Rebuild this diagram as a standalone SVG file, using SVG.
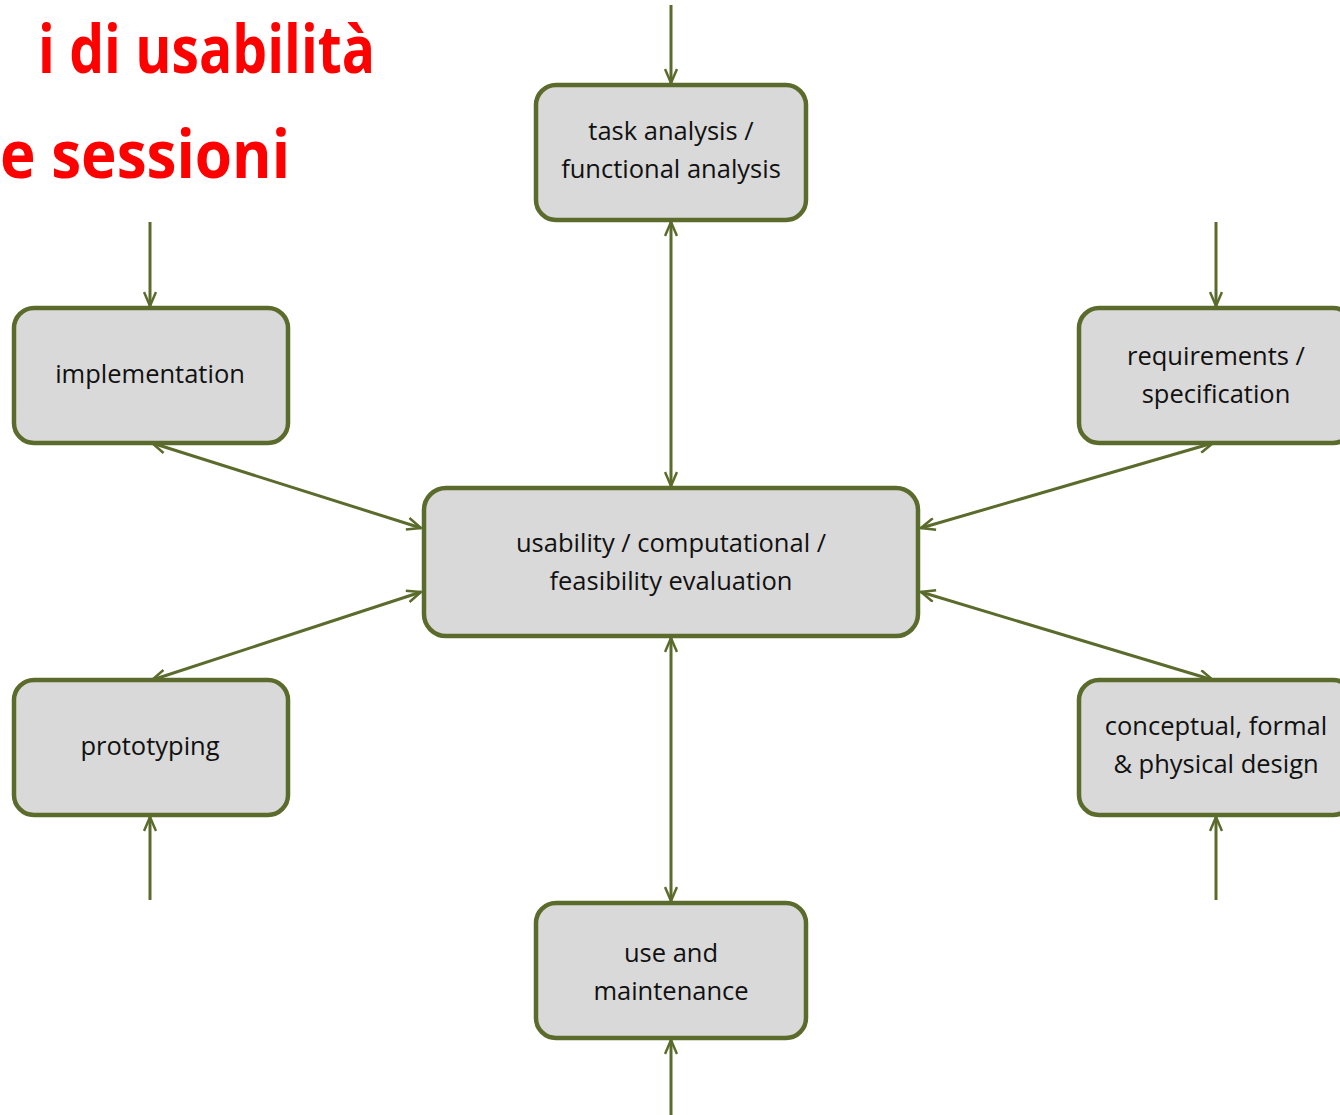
<svg xmlns="http://www.w3.org/2000/svg" width="1340" height="1115" viewBox="0 0 1340 1115">
<defs>
<style>
.node rect{fill:#d9d9d9;stroke:#5b6b2c;stroke-width:4.5}
.node text{font-family:"Open Sans","Noto Sans",sans-serif;font-size:25.5px;fill:#111;text-anchor:middle}
.conn line{stroke:#5b6b2c;stroke-width:3;fill:none}
.title{font-family:"Open Sans","Liberation Sans",sans-serif;font-weight:bold;font-size:66px;fill:#ff0000}
</style>
<marker id="ah" viewBox="0 0 16 14" refX="15" refY="7" markerWidth="16" markerHeight="14" markerUnits="userSpaceOnUse" orient="auto-start-reverse">
<path d="M1,1 L15,7 L1,13" fill="none" stroke="#5b6b2c" stroke-width="2.5"/>
</marker>
</defs>
<rect width="1340" height="1115" fill="#ffffff"/>
<g id="title">
<text class="title" x="38" y="73" textLength="337" lengthAdjust="spacingAndGlyphs">i di usabilità</text>
<text class="title" x="0" y="178" textLength="290" lengthAdjust="spacingAndGlyphs">e sessioni</text>
</g>
<g id="connectors" class="conn">
<line x1="671" y1="5" x2="671" y2="83" marker-end="url(#ah)"/>
<line x1="671" y1="222" x2="671" y2="486" marker-start="url(#ah)" marker-end="url(#ah)"/>
<line x1="150" y1="222" x2="150" y2="306" marker-end="url(#ah)"/>
<line x1="152" y1="443" x2="421" y2="528" marker-start="url(#ah)" marker-end="url(#ah)"/>
<line x1="1216" y1="222" x2="1216" y2="306" marker-end="url(#ah)"/>
<line x1="1213" y1="443" x2="921" y2="528" marker-start="url(#ah)" marker-end="url(#ah)"/>
<line x1="421" y1="592" x2="152" y2="680" marker-start="url(#ah)" marker-end="url(#ah)"/>
<line x1="921" y1="592" x2="1213" y2="680" marker-start="url(#ah)" marker-end="url(#ah)"/>
<line x1="150" y1="900" x2="150" y2="817" marker-end="url(#ah)"/>
<line x1="1216" y1="900" x2="1216" y2="817" marker-end="url(#ah)"/>
<line x1="671" y1="638" x2="671" y2="901" marker-start="url(#ah)" marker-end="url(#ah)"/>
<line x1="671" y1="1115" x2="671" y2="1040" marker-end="url(#ah)"/>
</g>
<g id="task" class="node">
<rect x="536" y="85" width="270" height="135" rx="20"/>
<text x="671" y="140">task analysis /</text>
<text x="671" y="178">functional analysis</text>
</g>
<g id="implementation" class="node">
<rect x="14" y="308" width="274" height="135" rx="20"/>
<text x="150" y="383">implementation</text>
</g>
<g id="requirements" class="node">
<rect x="1079" y="308" width="274" height="135" rx="20"/>
<text x="1216" y="365">requirements /</text>
<text x="1216" y="403">specification</text>
</g>
<g id="evaluation" class="node">
<rect x="424" y="488" width="494" height="148" rx="22"/>
<text x="671" y="552">usability / computational /</text>
<text x="671" y="590">feasibility evaluation</text>
</g>
<g id="prototyping" class="node">
<rect x="14" y="680" width="274" height="135" rx="20"/>
<text x="150" y="755">prototyping</text>
</g>
<g id="design" class="node">
<rect x="1079" y="680" width="274" height="135" rx="20"/>
<text x="1216" y="735">conceptual, formal</text>
<text x="1216" y="773">&amp; physical design</text>
</g>
<g id="use" class="node">
<rect x="536" y="903" width="270" height="135" rx="20"/>
<text x="671" y="962">use and</text>
<text x="671" y="1000">maintenance</text>
</g>
</svg>
